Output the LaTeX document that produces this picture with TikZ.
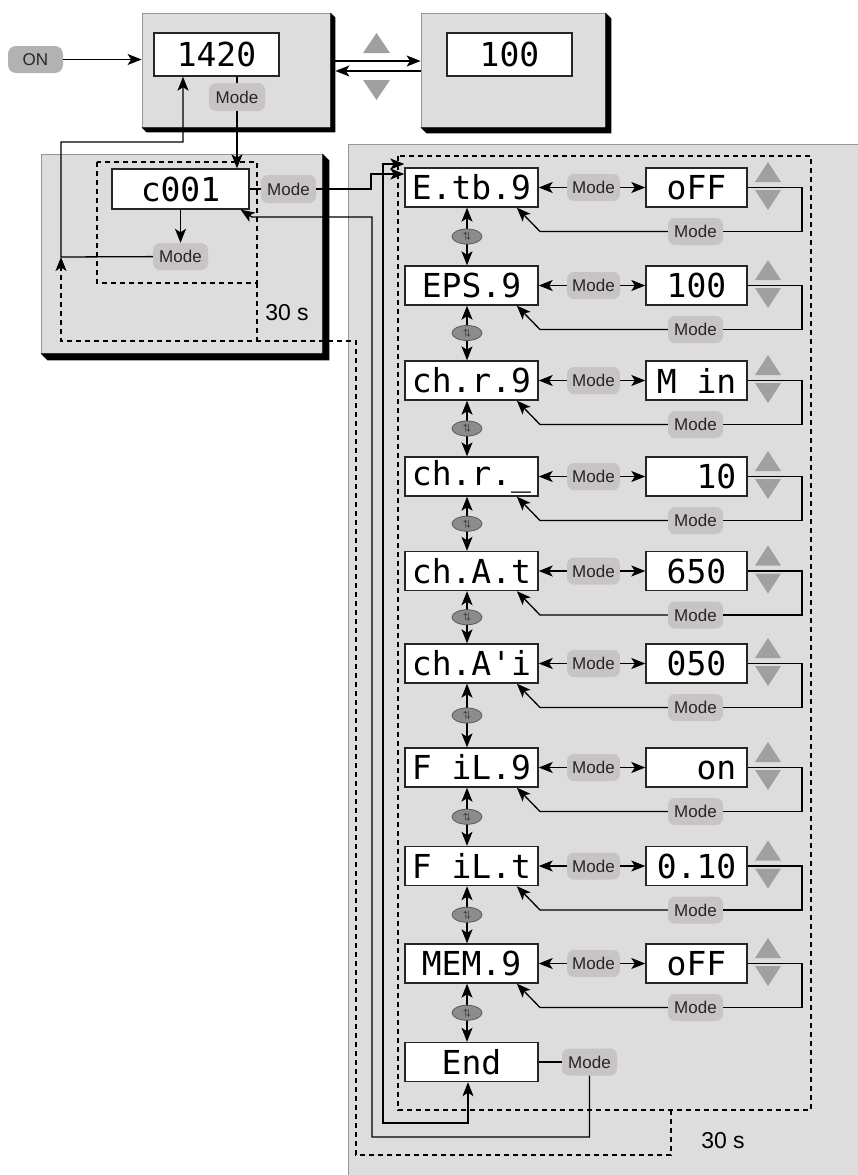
\documentclass[tikz,border=0pt]{standalone}
\usepackage{fontspec}
\setmainfont{Liberation Sans}
\newfontfamily\segfont{DejaVu Sans Mono}
\usetikzlibrary{arrows.meta,shapes.geometric}
\definecolor{panelgray}{RGB}{221,221,221}
\definecolor{panelline}{RGB}{150,150,150}
\definecolor{keygray}{RGB}{200,195,196}
\definecolor{ongray}{RGB}{178,178,178}
\definecolor{trigray}{RGB}{160,160,160}
\definecolor{ovalgray}{RGB}{140,140,140}

\begin{document}
\begin{tikzpicture}[x=1pt,y=-1pt,>={Stealth[length=14pt,width=11pt,inset=3.5pt]}]
\tikzstyle{panel}=[draw=panelline,fill=panelgray,line width=0.8pt,inner sep=0pt]
\tikzstyle{display}=[draw=black!85,fill=white,line width=1.4pt,inner sep=0pt,minimum height=39pt,font=\segfont\fontsize{33}{33}\selectfont]
\tikzstyle{key}=[fill=keygray,rounded corners=7pt,minimum width=53pt,minimum height=27pt,inner sep=0pt,text=black!85,font=\fontsize{17}{17}\selectfont]
\tikzstyle{edge}=[draw,line width=1.3pt]
\tikzstyle{timer}=[draw,line width=1.2pt,dash pattern=on 5pt off 4pt]
\tikzstyle{tri}=[fill=trigray]
\tikzstyle{scroll}=[ellipse,draw=black!65,fill=ovalgray,line width=0.8pt,minimum width=30pt,minimum height=15pt,inner sep=0pt,font=\fontsize{9}{9}\selectfont]
\tikzstyle{timeout}=[font=\fontsize{23}{23}\selectfont]
\def\dropshade#1#2{\fill (#1.north east) -- ++(#2,#2) -- ([shift={(#2,#2)}]#1.south east) -- ([shift={(#2,#2)}]#1.south west) -- (#1.south west) -- (#1.south east) -- cycle;}
\useasboundingbox (0,0) rectangle (858,1175);

% panels
\node[panel,minimum width=522pt,minimum height=1046pt] (p4) at (609,667) {};
\node[panel,minimum width=188pt,minimum height=114pt] (p1) at (236,70) {};
\node[panel,minimum width=184pt,minimum height=114pt] (p2) at (513,70) {};
\node[panel,minimum width=281pt,minimum height=199pt] (p3) at (181.5,253.5) {};
\dropshade{p1}{5}
\dropshade{p2}{6}
\dropshade{p3}{7}

% 30 s timeouts
\coordinate (turn) at (61,257);
\coordinate (back) at (61,142);
\draw[timer] (97,162) rectangle (257,283);
\draw[timer] (257,283) -- (257,341);
\draw[timer] (398,156) rectangle (811,1110);
\draw[timer,->] (671,1110) -- (671,1155) -- (356,1155) -- (356,341) -- (61,341) -- (turn);
\node[timeout] (t1) at (287,313) {30 s};
\node[timeout] (t2) at (723,1141) {30 s};

% run and set point
\node[key,fill=ongray,minimum width=55pt,rounded corners=8pt] (on) at (35.5,59.5) {ON};
\node[display,minimum width=125pt,minimum height=43pt] (run) at (216.5,54.5) {1420};
\node[display,minimum width=125pt,minimum height=43pt] (set) at (509.5,54.5) {100};
\node[key,minimum width=56pt,minimum height=28pt] (k0) at (237,97) {Mode};
\fill[tri] (363,53) -- (390,53) -- (376.5,33) -- cycle;
\fill[tri] (363,80) -- (390,80) -- (376.5,100) -- cycle;
\draw[edge,->] (on) -- (on -| p1.west);
\draw[edge,->] ([shift={(5,-9)}]p1.east) -- ([shift={(0,-9)}]p2.west);
\draw[edge,->] ([shift={(0,1)}]p2.west) -- ([shift={(5,1)}]p1.east);

% code entry
\node[display,minimum width=137pt,minimum height=40pt] (code) at (180.5,189) {c001};
\node[key,minimum width=55pt,minimum height=28pt] (kc) at (288.5,189) {Mode};
\node[key,minimum width=55pt] (kb) at (180.5,256.5) {Mode};
\draw[edge] (run.south -| k0) -- (k0);
\draw[edge,->] (k0) -- (k0 |- code.north);
\draw[edge,->] (code) -- (kb);
\draw[edge,->] (kb) -- (turn) -- (back) -| ([shift={(-33.5,0)}]run.south);
\draw[edge] (code) -- (kc);

% parameter list
\foreach \i/\y/\disp/\valu in {1/187.5/E.tb.9/oFF, 2/285.5/EPS.9/100, 3/380.5/ch.r.9/M in, 4/476.5/ch.r.\_/\phantom{00}10, 5/571/ch.A.t/650, 6/663.5/ch.A'i/050, 7/767.5/F iL.9/\phantom{00}on, 8/866/F iL.t/0.10, 9/963.5/MEM.9/oFF}
{
\node[display,minimum width=133pt] (\i) at (471.5,\y) {\disp};
\node[display,minimum width=101pt] (v\i) at (696.5,\y) {\valu};
\node[key] (m\i) at (593.5,\y) {Mode};
\node[key,minimum width=55pt] (r\i) at (695.5,\y+44) {Mode};
\fill[tri] (755,\y-5.5) -- (781,\y-5.5) -- (768,\y-25.5) -- cycle;
\fill[tri] (755,\y+2.5) -- (781,\y+2.5) -- (768,\y+22.5) -- cycle;
\draw[edge,->] (m\i) -- (\i);
\draw[edge,->] (m\i) -- (v\i);
\draw[edge] (v\i) -- (802,\y) |- (r\i);
\draw[edge,->] (r\i) -- (540,\y+44) -- (\i.-24);
}
\node[display,minimum width=133pt] (10) at (471.5,1062) {End};
\node[key,minimum width=55pt] (m10) at (589.5,1062) {Mode};
\draw[edge] (10) -- (m10);
\foreach \i [evaluate=\i as \j using int(\i+1)] in {1,...,9}
\draw[edge,<->] ([shift={(-4.5,0)}]\i.south) -- node[scroll] {$\uparrow\!\downarrow$} ([shift={(-4.5,0)}]\j.north);

% jumps
\draw[edge,->] (kc) -- (371,189) |- ([shift={(0,-13.5)}]1.west);
\draw[edge,<->] ([shift={(0,-23.5)}]1.west) -| (383,1123) -| ([shift={(-3.5,0)}]10.south);
\draw[edge,->] (m10) |- (372,1137) |- (252,217) -- (code.-19);
\end{tikzpicture}
\end{document}
